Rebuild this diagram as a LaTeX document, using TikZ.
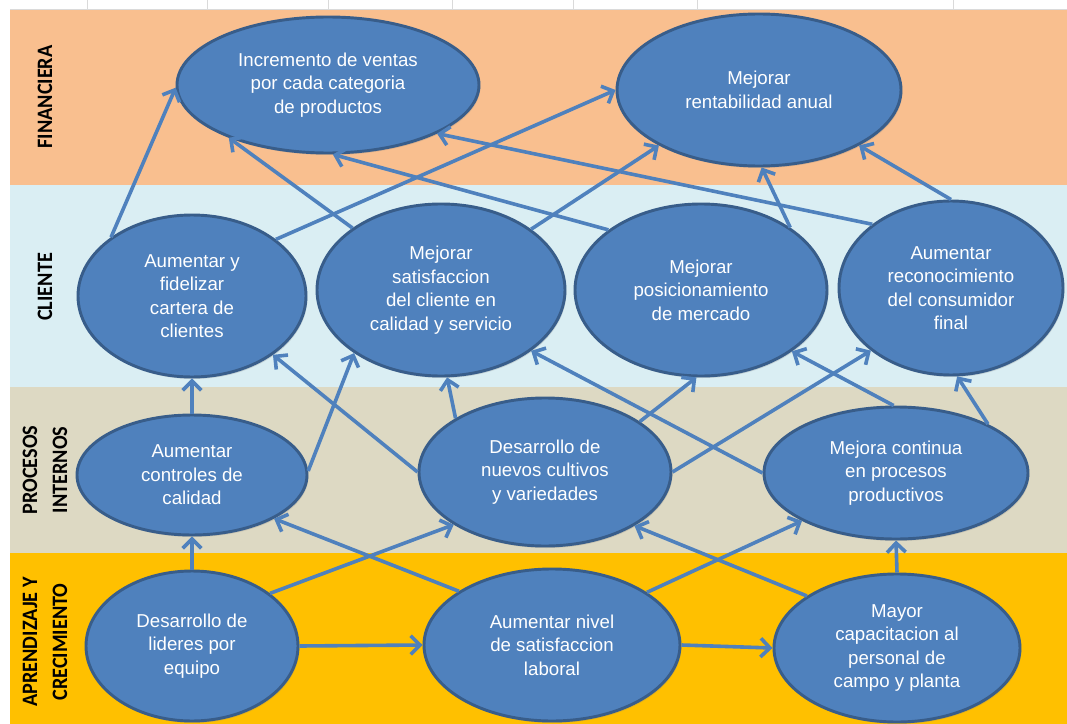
\documentclass[tikz,border=0pt]{standalone}
\usepackage{fontspec}
\usetikzlibrary{shapes.geometric,arrows.meta,shadows}
\setmainfont{Liberation Sans}
\newfontfamily\objfont{Liberation Sans}
\newfontfamily\labfont[FakeStretch=0.92]{Carlito}
\definecolor{bandA}{HTML}{F9BF8F}
\definecolor{bandB}{HTML}{DAEEF3}
\definecolor{bandC}{HTML}{DDD9C3}
\definecolor{bandD}{HTML}{FFC000}
\definecolor{objfill}{HTML}{4F81BD}
\definecolor{objborder}{HTML}{385D8A}
\definecolor{arrcol}{HTML}{4F81BD}
\definecolor{gridc}{HTML}{DADADA}
\tikzset{
  obj/.style={ellipse, draw=objborder, line width=2.2pt, fill=objfill, text=white,
    font={\objfont\fontsize{14}{17.6}\selectfont}, align=center, inner sep=0pt,
    drop shadow={opacity=0.25, shadow xshift=1pt, shadow yshift=-1.5pt}},
  sz/.style 2 args={minimum width=#1*1.5pt, minimum height=#2*1.5pt},
  arr/.style={draw=arrcol, line width=2.7pt, -{Straight Barb[length=7pt,width=14pt]}},
  lab/.style={rotate=90, align=center, text=black, inner sep=0pt,
    font={\labfont\bfseries\fontsize{16.5}{22.5}\selectfont}}
}
\begin{document}
\begin{tikzpicture}[x=0.75pt,y=-0.75pt]
\useasboundingbox (0,0) rectangle (1067,724);
\fill[white] (0,0) rectangle (1067,724);
% top strip grid
\foreach \gx in {87,207,328,452,573,697,953}{\draw[gridc,line width=0.6pt] (\gx,0) -- (\gx,10);}
\draw[gridc,line width=1pt] (10,9.5) -- (1067,9.5);
% bands
\fill[bandA] (10,10) rectangle (1067,185);
\fill[bandB] (10,185) rectangle (1067,387);
\fill[bandC] (10,387) rectangle (1067,553);
\fill[bandD] (10,553) rectangle (1067,724);
% band labels
\node[lab] (lf) at (45,97) {FINANCIERA};
\node[lab] (lc) at (45,287) {CLIENTE};
\node[lab] (lp) at (45,470) {PROCESOS\\INTERNOS};
\node[lab] (la) at (45,642) {APRENDIZAJE Y\\CRECIMIENTO};
% objectives
\node[obj, sz={151}{68}] (n1) at (328,85) {Incremento de ventas\\por cada categoria\\de productos};
\node[obj, sz={142}{76}] (n2) at (759,90) {Mejorar\\rentabilidad anual};
\node[obj, sz={114}{81}] (n3) at (192,296) {Aumentar y\\fidelizar\\cartera de\\clientes};
\node[obj, sz={124}{86}] (n4) at (441,290) {Mejorar\\satisfaccion\\del cliente en\\calidad y servicio};
\node[obj, sz={126}{86}] (n5) at (701,290) {Mejorar\\posicionamiento\\de mercado};
\node[obj, sz={112}{87}] (n6) at (951,288) {Aumentar\\reconocimiento\\del consumidor\\final};
\node[obj, sz={115}{60}] (n7) at (192,475) {Aumentar\\controles de\\calidad};
\node[obj, sz={126}{74}] (n8) at (545,472) {Desarrollo de\\nuevos cultivos\\y variedades};
\node[obj, sz={132}{66}] (n9) at (896,473) {Mejora continua\\en procesos\\productivos};
\node[obj, sz={106}{75}] (n10) at (192,646) {Desarrollo de\\lideres por\\equipo};
\node[obj, sz={128}{76}] (n11) at (552,645) {Aumentar nivel\\de satisfaccion\\laboral};
\node[obj, sz={123}{74}] (n12) at (897,648) {Mayor\\capacitacion al\\personal de\\campo y planta};
% connectors
\draw[arr] (n3.144) -- (n1.181);
\draw[arr] (n4.145) -- (n1.208);
\draw[arr] (n5.147) -- (n1.274);
\draw[arr] (n6.141) -- (n1.336);
\draw[arr] (n3.34) -- (n2.180);
\draw[arr] (n4.34) -- (n2.209);
\draw[arr] (n5.35) -- (n2.272);
\draw[arr] (n6.90) -- (n2.331);
\draw[arr] (n7.90) -- (n3.270);
\draw[arr] (n7.2) -- (n4.216);
\draw[arr] (n8.180) -- (n3.324);
\draw[arr] (n8.149) -- (n4.274);
\draw[arr] (n8.28) -- (n5.267);
\draw[arr] (n8.0) -- (n6.218);
\draw[arr] (n9.180) -- (n4.326);
\draw[arr] (n9.92) -- (n5.326);
\draw[arr] (n9.28) -- (n6.274);
\draw[arr] (n10.90) -- (n7.270);
\draw[arr] (n10.34) -- (n8.210);
\draw[arr] (n11.150) -- (n7.332);
\draw[arr] (n11.29) -- (n9.207);
\draw[arr] (n12.150) -- (n8.329);
\draw[arr] (n12.90) -- (n9.270);
\draw[arr] (n10.0) -- (n11.180);
\draw[arr] (n11.0) -- (n12.180);
\end{tikzpicture}
\end{document}
